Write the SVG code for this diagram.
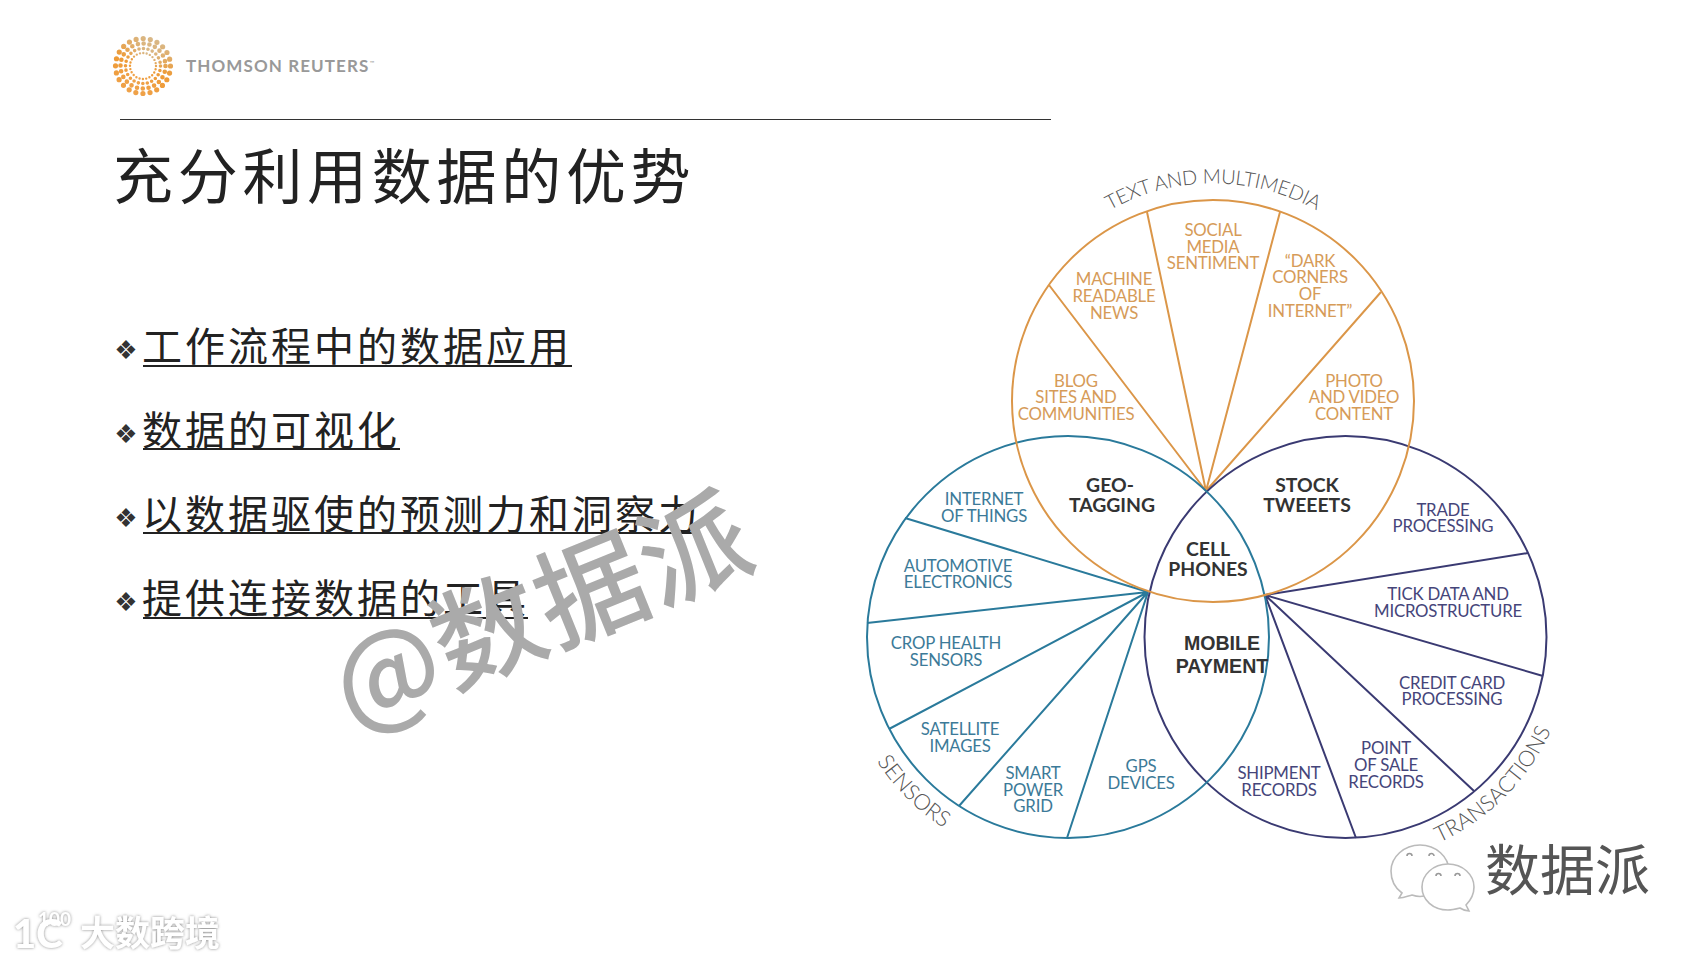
<svg xmlns="http://www.w3.org/2000/svg" width="1707" height="960" viewBox="0 0 1707 960">
<style>
text{font-family:"Lato","Liberation Sans","Noto Sans CJK SC",sans-serif}
.cjk{font-family:"Noto Sans CJK SC",sans-serif}
.title{font-size:60px;letter-spacing:4.7px;fill:#222;font-weight:400}
.b{font-size:40px;letter-spacing:3px;fill:#222;font-weight:400}
.blt{font-family:"DejaVu Sans",sans-serif;font-size:26px;fill:#333;text-anchor:middle}
.u{stroke:#222;stroke-width:2}
.lb{font-size:16.8px;text-anchor:middle;letter-spacing:-.2px}
.o{fill:#D69B58}.t{fill:#3C7A98}.p{fill:#45457A}
.k{font-size:19.4px;font-weight:700;fill:#333;text-anchor:middle}
.m{font-family:"Liberation Sans",sans-serif;font-size:19.6px;font-weight:700;fill:#333;text-anchor:middle}
.arc{font-size:22px;fill:#555;font-weight:300;text-anchor:middle}
.co{fill:none;stroke:#DB9648;stroke-width:2}
.ct{fill:none;stroke:#2A7A9B;stroke-width:2}
.cp{fill:none;stroke:#3A3A72;stroke-width:2}
.dot{fill:none;stroke-linecap:round;stroke:url(#lg)}
.wm{fill:#fff;filter:url(#gl)}
.bub{fill:#fff;stroke:#bbb;stroke-width:1.6}
.eye{fill:none;stroke:#999;stroke-width:1.6}
</style>
<defs>
<linearGradient id="lg" x1="0.7" y1="0" x2="0.3" y2="1"><stop offset="0" stop-color="#D8B98A"/><stop offset=".5" stop-color="#EE9A35"/><stop offset="1" stop-color="#EFA24A"/></linearGradient>
<filter id="gl" x="-20%" y="-20%" width="140%" height="140%"><feDropShadow dx="0" dy="0" stdDeviation="1.6" flood-color="#888"/></filter>
<path id="arcT" d="M1012,328 A212,212 0 0 1 1414,328"/>
<path id="arcS" d="M843.5,676.6 A228,228 0 0 0 1028.4,861.5"/>
<path id="arcR" d="M1384.7,859.6 A226,226 0 0 0 1568,676"/>
</defs>
<rect width="1707" height="960" fill="#fff"/>
<g id="logo">
<circle class="dot" cx="143" cy="66" r="27.500" stroke-width="5.200" stroke-dasharray="0 7.200"/>
<circle class="dot" cx="143" cy="66" r="22.500" stroke-width="4.600" stroke-dasharray="0 5.890"/>
<circle class="dot" cx="143" cy="66" r="17.500" stroke-width="3.600" stroke-dasharray="0 4.580"/>
<circle class="dot" cx="143" cy="66" r="13" stroke-width="2.400" stroke-dasharray="0 3.400"/>
<text x="186" y="72" font-size="17" font-weight="700" fill="#999" letter-spacing="1.1">THOMSON REUTERS<tspan font-size="6" dy="-7" font-weight="400">™</tspan></text>
</g>
<line x1="120" y1="119.500" x2="1051" y2="119.500" stroke="#333" stroke-width="1"/>
<text id="title" class="cjk title" x="113" y="199">充分利用数据的优势</text>
<g id="bullets">
<text class="blt" x="126" y="359">❖</text><text class="cjk b" x="142" y="361">工作流程中的数据应用</text><line class="u" x1="143" y1="366" x2="572" y2="366"/>
<text class="blt" x="126" y="443">❖</text><text class="cjk b" x="142" y="445">数据的可视化</text><line class="u" x1="143" y1="449" x2="400" y2="449"/>
<text class="blt" x="126" y="527">❖</text><text class="cjk b" x="142" y="529">以数据驱使的预测力和洞察力</text><line class="u" x1="143" y1="533" x2="700" y2="533"/>
<text class="blt" x="126" y="611">❖</text><text class="cjk b" x="142" y="613">提供连接数据的工具</text><line class="u" x1="143" y1="618" x2="528" y2="618"/>
</g>
<text id="watermark" class="cjk" transform="translate(352,730) rotate(-22)" font-size="110" letter-spacing="1" font-weight="500" fill="#aaa">@数据派</text>
<g id="connectors">
<path class="co" d="M1206,491L1049,285M1206,491L1147,212M1206,491L1280,212M1206,491L1381,292"/>
<path class="ct" d="M1148,592L905,518M1148,592L867,623M1148,592L889,729M1148,592L959,806M1148,592L1067,838"/>
<path class="cp" d="M1265,595L1528,553M1265,595L1543,676M1265,595L1474,791M1265,595L1356,838"/>
<circle class="cp" cx="1345.500" cy="637" r="201"/>
<circle class="ct" cx="1068" cy="637" r="201"/>
<circle class="co" cx="1213" cy="401" r="201"/>
</g>
<g id="text-and-multimedia">
<text class="arc" style="font-size:20px;letter-spacing:-.3px"><textPath href="#arcT" startOffset="50%">TEXT AND MULTIMEDIA</textPath></text>
<text class="lb o" x="1114" y="285">MACHINE</text><text class="lb o" x="1114" y="302">READABLE</text><text class="lb o" x="1114" y="319">NEWS</text>
<text class="lb o" x="1213" y="236">SOCIAL</text><text class="lb o" x="1213" y="253">MEDIA</text><text class="lb o" x="1213" y="269">SENTIMENT</text>
<text class="lb o" x="1310" y="267">“DARK</text><text class="lb o" x="1310" y="283">CORNERS</text><text class="lb o" x="1310" y="300">OF</text><text class="lb o" x="1310" y="317">INTERNET”</text>
<text class="lb o" x="1076" y="387">BLOG</text><text class="lb o" x="1076" y="403">SITES AND</text><text class="lb o" x="1076" y="420">COMMUNITIES</text>
<text class="lb o" x="1354" y="387">PHOTO</text><text class="lb o" x="1354" y="403">AND VIDEO</text><text class="lb o" x="1354" y="420">CONTENT</text>
</g>
<g id="sensors">
<text class="arc"><textPath href="#arcS" startOffset="50%">SENSORS</textPath></text>
<text class="lb t" x="984" y="505">INTERNET</text><text class="lb t" x="984" y="522">OF THINGS</text>
<text class="lb t" x="958" y="572">AUTOMOTIVE</text><text class="lb t" x="958" y="588">ELECTRONICS</text>
<text class="lb t" x="946" y="649">CROP HEALTH</text><text class="lb t" x="946" y="666">SENSORS</text>
<text class="lb t" x="960" y="735">SATELLITE</text><text class="lb t" x="960" y="752">IMAGES</text>
<text class="lb t" x="1033" y="779">SMART</text><text class="lb t" x="1033" y="796">POWER</text><text class="lb t" x="1033" y="812">GRID</text>
<text class="lb t" x="1141" y="772">GPS</text><text class="lb t" x="1141" y="789">DEVICES</text>
</g>
<g id="transactions">
<text class="arc"><textPath href="#arcR" startOffset="50%">TRANSACTIONS</textPath></text>
<text class="lb p" x="1443" y="516">TRADE</text><text class="lb p" x="1443" y="532">PROCESSING</text>
<text class="lb p" x="1448" y="600">TICK DATA AND</text><text class="lb p" x="1448" y="617">MICROSTRUCTURE</text>
<text class="lb p" x="1452" y="689">CREDIT CARD</text><text class="lb p" x="1452" y="705">PROCESSING</text>
<text class="lb p" x="1386" y="754">POINT</text><text class="lb p" x="1386" y="771">OF SALE</text><text class="lb p" x="1386" y="788">RECORDS</text>
<text class="lb p" x="1279" y="779">SHIPMENT</text><text class="lb p" x="1279" y="796">RECORDS</text>
</g>
<g id="overlaps">
<text class="k" x="1110" y="492">GEO-</text><text class="k" x="1112" y="512">TAGGING</text>
<text class="k" x="1307" y="492">STOCK</text><text class="k" x="1307" y="512">TWEEETS</text>
<text class="k" x="1208" y="556">CELL</text><text class="k" x="1208" y="576">PHONES</text>
<text class="m" x="1222" y="650">MOBILE</text><text class="m" x="1222" y="673">PAYMENT</text>
</g>
<g id="wechat">
<path class="bub" d="M1420,845C1404,845 1391,857 1391,871C1391,880 1395,888 1402,893L1399,898C1404,898 1408,896 1412,895C1415,896 1420,897 1424,896C1438,895 1449,884 1449,871C1449,857 1436,845 1420,845Z"/>
<path class="bub" d="M1448,864C1433,864 1422,875 1422,887C1422,900 1433,910 1448,910C1452,910 1456,909 1460,908C1463,910 1466,911 1469,911L1466,905C1471,900 1474,894 1474,887C1474,875 1463,864 1448,864Z"/>
<path class="eye" d="M1407,856a2.500,2.500 0 0 1 5,0M1429,856a2.500,2.500 0 0 1 5,0M1436,876a2.500,2.500 0 0 1 5,0M1455,876a2.500,2.500 0 0 1 5,0"/>
<text class="cjk" x="1485" y="890" font-size="55" fill="#555">数据派</text>
</g>
<g id="footer-mark" class="wm">
<text x="13" y="948" font-size="40" font-weight="900" fill="#fff">1C</text>
<text x="38" y="926" font-size="19" font-weight="700" fill="#fff">100</text>
<text class="cjk" x="80" y="946" font-size="35" font-weight="700" fill="#fff">大数跨境</text>
</g>
</svg>
